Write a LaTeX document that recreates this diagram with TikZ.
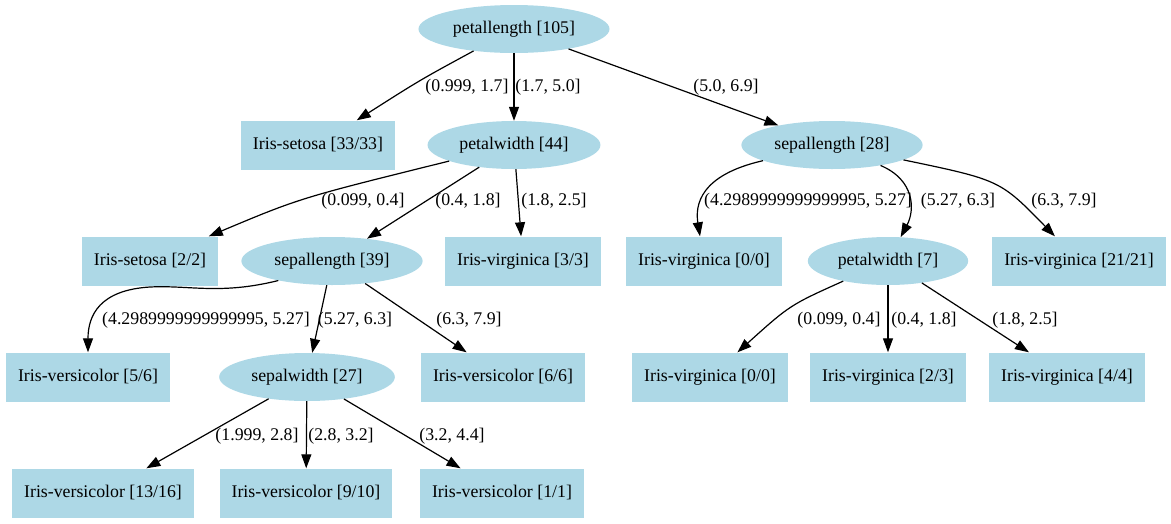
\documentclass[tikz,border=0pt]{standalone}
\usepackage{fontspec}
\setmainfont{Liberation Serif}
\usetikzlibrary{shapes.geometric,arrows.meta}
\definecolor{nodefill}{HTML}{ADD8E6}
\begin{document}
\begin{tikzpicture}[x=1pt,y=-1pt,
  every node/.style={font=\fontsize{17.8}{20}\selectfont},
  inode/.style={ellipse,fill=nodefill,inner xsep=6.5pt,inner ysep=2pt,minimum height=48pt},
  leaf/.style={rectangle,fill=nodefill,inner xsep=12pt,minimum height=49pt},
  edge/.style={draw=black,line width=1.2pt,-{Triangle[length=14pt,width=10pt]}},
  lab/.style={inner sep=0pt,anchor=center}]
\useasboundingbox (0,0) rectangle (1171,523);
% nodes
\node[inode] (n0) at (514,29) {petallength [105]};
\node[leaf] (s33) at (318,145) {Iris-setosa [33/33]};
\node[inode] (pw44) at (514,145) {petalwidth [44]};
\node[inode] (sl28) at (832,145) {sepallength [28]};
\node[leaf] (set22) at (150,261) {Iris-setosa [2/2]};
\node[inode] (sl39) at (332,261) {sepallength [39]};
\node[leaf] (vir33) at (523,261) {Iris-virginica [3/3]};
\node[leaf] (vir00a) at (704,261) {Iris-virginica [0/0]};
\node[inode] (pw7) at (888,261) {petalwidth [7]};
\node[leaf] (vir2121) at (1079,261) {Iris-virginica [21/21]};
\node[leaf] (ver56) at (88,377) {Iris-versicolor [5/6]};
\node[inode] (sw27) at (307,377) {sepalwidth [27]};
\node[leaf] (ver66) at (503,377) {Iris-versicolor [6/6]};
\node[leaf] (vir00b) at (710,377) {Iris-virginica [0/0]};
\node[leaf] (vir23) at (888,377) {Iris-virginica [2/3]};
\node[leaf] (vir44) at (1067,377) {Iris-virginica [4/4]};
\node[leaf] (ver1316) at (103,493) {Iris-versicolor [13/16]};
\node[leaf] (ver910) at (306,493) {Iris-versicolor [9/10]};
\node[leaf] (ver11) at (502,493) {Iris-versicolor [1/1]};
% edges
\draw[edge] (n0) .. controls (420,80) .. (s33);
\node[lab] (l1) at (467,87) {(0.999, 1.7]};
\draw[edge] (n0) -- (pw44);
\node[lab] (l2) at (548,87) {(1.7, 5.0]};
\draw[edge] (n0) -- (sl28);
\node[lab] (l3) at (726,87) {(5.0, 6.9]};
\draw[edge] (pw44) .. controls (300,198) .. (set22);
\node[lab] (l4) at (363,201) {(0.099, 0.4]};
\draw[edge] (pw44) -- (sl39);
\node[lab] (l5) at (468,201) {(0.4, 1.8]};
\draw[edge] (pw44) -- (vir33);
\node[lab] (l6) at (554,201) {(1.8, 2.5]};
\draw[edge] (sl28) .. controls (700,175) and (695,205) .. (vir00a);
\node[lab] (l7) at (808,201) {(4.2989999999999995, 5.27]};
\draw[edge] (sl28) .. controls (915,180) and (915,210) .. (pw7);
\node[lab] (l8) at (958,201) {(5.27, 6.3]};
\draw[edge] (sl28) .. controls (1000,180) .. (vir2121);
\node[lab] (l9) at (1064,201) {(6.3, 7.9]};
\draw[edge] (sl39.200) .. controls (220,295) and (190,285) .. (150,287) .. controls (100,290) and (88,315) .. (ver56.north);
\node[lab] (l10) at (206,320) {(4.2989999999999995, 5.27]};
\draw[edge] (sl39) -- (sw27);
\node[lab] (l11) at (355,320) {(5.27, 6.3]};
\draw[edge] (sl39) -- (ver66);
\node[lab] (l12) at (469,320) {(6.3, 7.9]};
\draw[edge] (pw7) .. controls (790,305) .. (vir00b);
\node[lab] (l13) at (839,320) {(0.099, 0.4]};
\draw[edge] (pw7) -- (vir23);
\node[lab] (l14) at (924,320) {(0.4, 1.8]};
\draw[edge] (pw7) -- (vir44);
\node[lab] (l15) at (1025,320) {(1.8, 2.5]};
\draw[edge] (sw27) -- (ver1316);
\node[lab] (l16) at (257,436) {(1.999, 2.8]};
\draw[edge] (sw27) -- (ver910);
\node[lab] (l17) at (341,436) {(2.8, 3.2]};
\draw[edge] (sw27) -- (ver11);
\node[lab] (l18) at (452,436) {(3.2, 4.4]};
\end{tikzpicture}
\end{document}
